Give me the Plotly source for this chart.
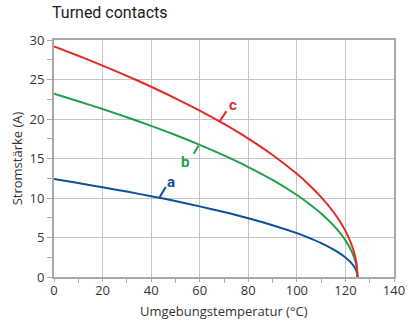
import plotly.graph_objects as go

# ---- data ----
temp = [0, 10, 20, 30, 40, 50, 60, 70, 80, 90, 100, 105, 110, 115, 118, 120, 122, 123.5, 124.5, 125]
curve_a = [12.4, 11.89, 11.36, 10.81, 10.23, 9.61, 8.94, 8.22, 7.44, 6.56, 5.55, 4.96, 4.30, 3.51, 2.93, 2.48, 1.92, 1.36, 0.78, 0]
curve_b = [23.2, 22.25, 21.26, 20.23, 19.13, 17.97, 16.73, 15.39, 13.92, 12.28, 10.38, 9.28, 8.04, 6.56, 5.49, 4.64, 3.59, 2.54, 1.47, 0]
curve_c = [29.2, 28.01, 26.76, 25.46, 24.08, 22.62, 21.06, 19.37, 17.52, 15.45, 13.06, 11.68, 10.11, 8.26, 6.91, 5.84, 4.52, 3.20, 1.85, 0]

labels = ["a", "b", "c"]
# leader line: point on curve -> end near the letter
leader_x = [[43.5, 46.0], [59.5, 57.5], [68.0, 71.0]]
leader_y = [[10.1, 11.4], [16.6, 15.6], [19.6, 21.0]]
label_x = [48.3, 54.0, 73.5]
label_y = [12.0, 14.6, 21.8]

colors = ["#0b4f9e", "#23a047", "#e32a26"]

fig = go.Figure()

for ys, col in zip([curve_a, curve_b, curve_c], colors):
    fig.add_trace(go.Scatter(x=temp, y=ys, mode="lines",
                             line=dict(color=col, width=2, shape="spline", smoothing=0.8),
                             showlegend=False, hoverinfo="skip"))

for lx, ly, col in zip(leader_x, leader_y, colors):
    fig.add_trace(go.Scatter(x=lx, y=ly, mode="lines", line=dict(color=col, width=2),
                             showlegend=False, hoverinfo="skip"))

for txt, tx, ty, col in zip(labels, label_x, label_y, colors):
    fig.add_annotation(x=tx, y=ty, text="<b>%s</b>" % txt, showarrow=False,
                       font=dict(color=col, size=15, family="Roboto"))

axis_font = dict(family="Open Sans", size=13, color="#333333")

# x-axis title placed as annotation so it sits close to the tick labels
fig.add_annotation(text="Umgebungstemperatur (°C)", xref="paper", yref="paper",
                   x=0.5, y=-(311 - 277) / 237, xanchor="center", yanchor="middle",
                   showarrow=False, font=axis_font)

fig.update_layout(
    width=412, height=322,
    margin=dict(l=54, r=18, t=40, b=45),
    paper_bgcolor="white", plot_bgcolor="white",
    title=dict(text="Turned contacts", x=52 / 412, xanchor="left", xref="container",
               y=1 - 7 / 322, yanchor="top",
               font=dict(family="Roboto", size=16, color="#1a1a1a")),
    xaxis=dict(range=[0, 140], dtick=20, showgrid=True, gridcolor="#c4c4c4", gridwidth=1,
               showline=True, linecolor="#a8a8a8", linewidth=2, mirror=True, zeroline=False,
               ticks="outside", ticklen=3, tickcolor="#a8a8a8", tickfont=axis_font,
               ticklabelstandoff=-3,
               minor=dict(dtick=10, ticks="outside", ticklen=4, tickcolor="#a8a8a8", showgrid=False),
               automargin=False),
    yaxis=dict(range=[0, 30], dtick=5, showgrid=True, gridcolor="#c4c4c4", gridwidth=1,
               showline=True, linecolor="#a8a8a8", linewidth=2, mirror=True, zeroline=False,
               ticks="outside", ticklen=5, tickcolor="#a8a8a8", tickfont=axis_font,
               minor=dict(dtick=2.5, ticks="outside", ticklen=5, tickcolor="#a8a8a8", showgrid=False),
               automargin=False,
               title=dict(text="Stromstärke (A)", font=axis_font, standoff=4)),
)

fig.write_html("out.html", post_script="document.body.style.margin='0';",
               config={"displayModeBar": False})
